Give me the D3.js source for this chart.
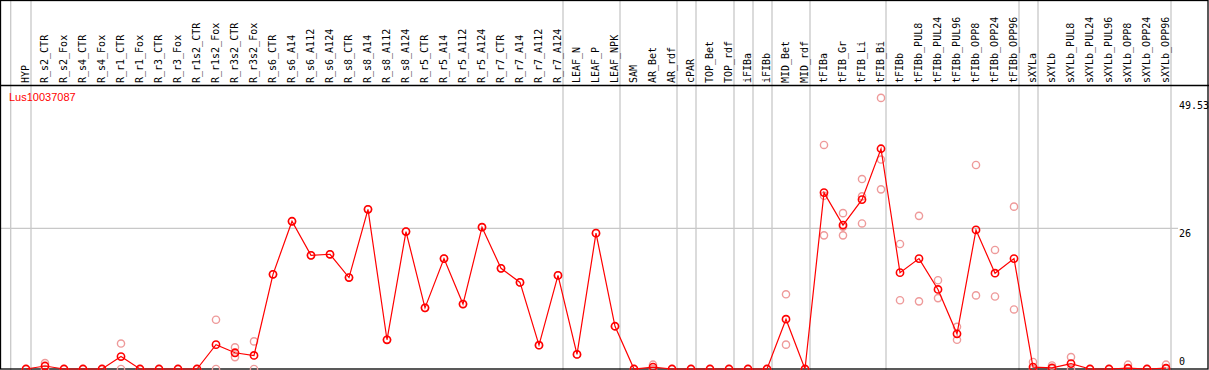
<!DOCTYPE html>
<html>
<head>
<meta charset="utf-8">
<script src="https://cdn.jsdelivr.net/npm/d3@7"></script>
<style>
  body { margin: 0; background: #fff; }
  svg { display: block; }
</style>
</head>
<body>
<div id="chart"></div>
<script>
// Sample names, in plot order
const categories = [
    "HYP",
    "R_s2_CTR", "R_s2_Fox", "R_s4_CTR", "R_s4_Fox", "R_r1_CTR", "R_r1_Fox",
    "R_r3_CTR", "R_r3_Fox", "R_r1s2_CTR", "R_r1s2_Fox", "R_r3s2_CTR", "R_r3s2_Fox",
    "R_s6_CTR", "R_s6_A14", "R_s6_A112", "R_s6_A124",
    "R_s8_CTR", "R_s8_A14", "R_s8_A112", "R_s8_A124",
    "R_r5_CTR", "R_r5_A14", "R_r5_A112", "R_r5_A124",
    "R_r7_CTR", "R_r7_A14", "R_r7_A112", "R_r7_A124",
    "LEAF_N", "LEAF_P", "LEAF_NPK",
    "SAM", "AR_Bet", "AR_rdf", "cPAR", "TOP_Bet", "TOP_rdf",
    "iFIBa", "iFIBb", "MID_Bet", "MID_rdf",
    "tFIBa", "tFIB_Gr", "tFIB_Li", "tFIB_Bi",
    "tFIBb", "tFIBb_PUL8", "tFIBb_PUL24", "tFIBb_PUL96", "tFIBb_OPP8", "tFIBb_OPP24", "tFIBb_OPP96",
    "sXYLa", "sXYLb", "sXYLb_PUL8", "sXYLb_PUL24", "sXYLb_PUL96", "sXYLb_OPP8", "sXYLb_OPP24", "sXYLb_OPP96"
];

// Mean expression per sample
const means = [
    0,
    0.55, 0, 0, 0, 2.3, 0,
    0, 0, 0, 4.5, 3.0, 2.5,
    17.5, 27.3, 21.0, 21.2,
    16.9, 29.5, 5.4, 25.4,
    11.3, 20.4, 12.0, 26.2,
    18.6, 16.0, 4.4, 17.3,
    2.7, 25.1, 7.9,
    0, 0.35, 0, 0, 0, 0,
    0, 0, 9.2, 0,
    32.6, 26.6, 31.3, 40.7,
    17.8, 20.4, 14.7, 6.5, 25.7, 17.7, 20.4,
    0.35, 0.2, 1.0, 0, 0, 0.15, 0, 0.15
];

// Individual replicates per sample
const replicates = [
    [0],
    [1.1, 0], [0], [0], [0], [4.7, 0], [0],
    [0], [0], [0], [9.1, 0], [4.0, 2.2], [5.1, 0],
    [17.5], [27.3], [21.0], [21.2],
    [16.9], [29.5], [5.4], [25.4],
    [11.3], [20.4], [12.0], [26.2],
    [18.6], [16.0], [4.4], [17.3],
    [2.7], [25.1], [7.9],
    [0], [0.8, 0], [0], [0], [0], [0],
    [0], [0], [13.8, 4.5], [0],
    [41.4, 32.0, 24.7], [28.8, 26.3, 24.7], [35.1, 26.9, 31.9], [50.1, 38.7, 33.2],
    [23.1, 12.7], [28.3, 12.5], [16.4, 13.1], [7.8, 5.4], [37.7, 13.6], [22.0, 13.4], [30.0, 11.0],
    [1.3, 0], [0.65, 0], [2.2, 0], [0], [0], [0.8, 0], [0], [0.8, 0]
];

// last sample of each group (grey separators)
const groupEnds = ["HYP", "R_r7_A124", "LEAF_NPK", "AR_rdf", "cPAR", "TOP_rdf",
    "iFIBa", "iFIBb", "MID_rdf", "tFIB_Bi", "tFIBb_OPP96", "sXYLa", "sXYLb_OPP96"];

const yTicks = [0, 26, 49.53];
const geneName = "Lus10037087";

const W = 1209, H = 370;
const headerY = 85.5;

const svg = d3.select("#chart").append("svg")
    .attr("width", W)
    .attr("height", H);

const x = d3.scalePoint()
    .domain(categories)
    .range([26, 1166]);

const y = d3.scaleLinear()
    .domain([0, 26])
    .range([369, 228.3]);

// grey separators, full height
const sepX = [x(categories[0]) - 15.3, ...groupEnds.map(c => x(c) + 5)];
svg.append("g")
    .selectAll("line")
    .data(sepX)
    .join("line")
    .attr("x1", d => d).attr("x2", d => d)
    .attr("y1", 0).attr("y2", H)
    .attr("stroke", "#c8c8c8")
    .attr("stroke-width", 1.3);

// gridline at 26
svg.append("line")
    .attr("x1", 0).attr("x2", 1178)
    .attr("y1", y(26)).attr("y2", y(26))
    .attr("stroke", "#c8c8c8")
    .attr("stroke-width", 1.3);

// frame
svg.append("rect")
    .attr("x", 0.5).attr("y", 0.5)
    .attr("width", W - 1.5).attr("height", H - 1.5)
    .attr("fill", "none")
    .attr("stroke", "#000")
    .attr("stroke-width", 1.3);

svg.append("line")
    .attr("x1", 0).attr("x2", W)
    .attr("y1", headerY).attr("y2", headerY)
    .attr("stroke", "#000")
    .attr("stroke-width", 1.5);

// sample labels in the header
svg.append("g")
    .selectAll("text")
    .data(categories)
    .join("text")
    .attr("transform", d => `translate(${x(d) + 2.5},83) rotate(-90)`)
    .attr("font-family", "DejaVu Sans Mono")
    .attr("font-size", "10px")
    .attr("fill", "#000")
    .text(d => d);

// gene name
svg.append("text")
    .attr("x", 9)
    .attr("y", 101)
    .attr("font-family", "Liberation Sans")
    .attr("font-size", "11px")
    .attr("fill", "#ff0000")
    .text(geneName);

// value labels at the right
svg.append("g")
    .selectAll("text")
    .data(yTicks)
    .join("text")
    .attr("x", 1179)
    .attr("y", d => d === 0 ? y(d) - 4.5 : y(d) + 8.5)
    .attr("font-family", "DejaVu Sans Mono")
    .attr("font-size", "10px")
    .attr("fill", "#000")
    .text(d => d);

// replicates
const repPoints = [];
replicates.forEach((reps, i) => reps.forEach(v => repPoints.push({ cat: categories[i], value: v })));

svg.append("g")
    .selectAll("circle")
    .data(repPoints)
    .join("circle")
    .attr("cx", d => x(d.cat))
    .attr("cy", d => y(d.value))
    .attr("r", 3.6)
    .attr("fill", "none")
    .attr("stroke", "#ee9a9a")
    .attr("stroke-width", 1.4);

// mean line
const meanData = categories.map((c, i) => ({ cat: c, value: means[i] }));

svg.append("path")
    .datum(meanData)
    .attr("d", d3.line().x(d => x(d.cat)).y(d => y(d.value)))
    .attr("fill", "none")
    .attr("stroke", "#ff0000")
    .attr("stroke-width", 1.2);

svg.append("g")
    .selectAll("circle")
    .data(meanData)
    .join("circle")
    .attr("cx", d => x(d.cat))
    .attr("cy", d => y(d.value))
    .attr("r", 3.6)
    .attr("fill", "none")
    .attr("stroke", "#ff0000")
    .attr("stroke-width", 1.6);
</script>
</body>
</html>
